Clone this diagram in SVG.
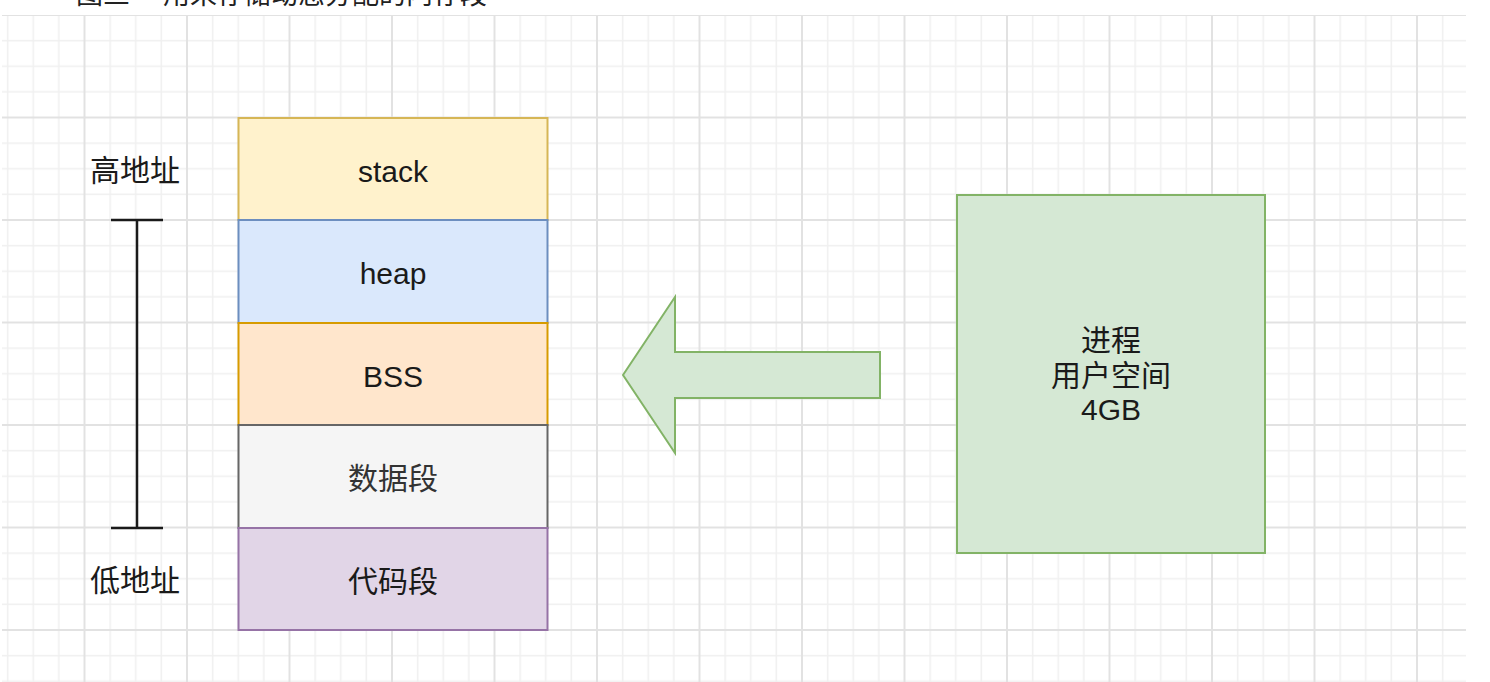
<svg xmlns="http://www.w3.org/2000/svg" width="1490" height="682" viewBox="0 0 1490 682">
  <defs>
    <pattern id="grid" x="84.5" y="15" width="102.5" height="102.5" patternUnits="userSpaceOnUse">
      <path d="M25.625 0V102.5M51.25 0V102.5M76.875 0V102.5M0 25.625H102.5M0 51.25H102.5M0 76.875H102.5" stroke="#f0f0f0" stroke-width="1.6" fill="none"/>
      <path d="M0 0V102.5M102.5 0V102.5M0 0H102.5M0 102.5H102.5" stroke="#e2e2e2" stroke-width="2" fill="none"/>
    </pattern>
    <style>
      .lbl{font-family:"Liberation Sans","Noto Sans CJK SC",sans-serif;font-size:30px;fill:#1a1a1a;text-anchor:middle}
      .cap{font-family:"Noto Sans CJK SC",sans-serif;font-size:27px;fill:#222222}
      .seg{stroke-width:2}
    </style>
  </defs>
  <rect width="1490" height="682" fill="#ffffff"/>
  <rect x="2" y="15" width="1464" height="667" fill="url(#grid)"/>

  <text class="cap" x="76" y="4">图三<tspan x="163">用来存储动态分配的内存段</tspan></text>

  <g id="connectors">
    <path d="M137 220V528M111 220H163M111 528H163" stroke="#1a1a1a" stroke-width="2.5" fill="none"/>
    <polygon points="623,375 675,297 675,352 880,352 880,398 675,398 675,453" fill="#d5e8d4" stroke="#82b366" stroke-width="2" stroke-linejoin="miter"/>
  </g>

  <g id="label-high">
    <text class="lbl" x="135" y="181">高地址</text>
  </g>
  <g id="label-low">
    <text class="lbl" x="135" y="591">低地址</text>
  </g>

  <g id="stack">
    <rect class="seg" x="238.5" y="118" width="309" height="102" fill="#fff2cc" stroke="#d6b656"/>
    <text class="lbl" x="393" y="182">stack</text>
  </g>
  <g id="heap">
    <rect class="seg" x="238.5" y="220" width="309" height="103" fill="#dae8fc" stroke="#6c8ebf"/>
    <text class="lbl" x="393" y="284">heap</text>
  </g>
  <g id="bss">
    <rect class="seg" x="238.5" y="323" width="309" height="102" fill="#ffe6cc" stroke="#d79b00"/>
    <text class="lbl" x="393" y="387">BSS</text>
  </g>
  <g id="data">
    <rect class="seg" x="238.5" y="425" width="309" height="103" fill="#f5f5f5" stroke="#666666"/>
    <text class="lbl" x="393" y="489" style="fill:#333333">数据段</text>
  </g>
  <g id="code">
    <rect class="seg" x="238.5" y="528" width="309" height="102" fill="#e1d5e7" stroke="#9673a6"/>
    <text class="lbl" x="393" y="592">代码段</text>
  </g>

  <g id="process">
    <rect class="seg" x="957" y="195" width="308" height="358" fill="#d5e8d4" stroke="#82b366"/>
    <text class="lbl" x="1111" y="351">进程</text>
    <text class="lbl" x="1111" y="386">用户空间</text>
    <text class="lbl" x="1111" y="420">4GB</text>
  </g>
</svg>
